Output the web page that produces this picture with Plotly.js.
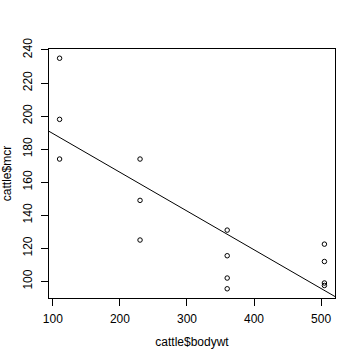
<!DOCTYPE html>
<html>
<head>
<meta charset="utf-8">
<script src="https://cdn.plot.ly/plotly-3.0.1.min.js"></script>
<style>html,body{margin:0;padding:0;background:#fff;}#plot{width:360px;height:360px;}</style>
</head>
<body>
<div id="plot"></div>
<script>
const bodywt = [110, 110, 110, 230, 230, 230, 360, 360, 360, 360, 505, 505, 505, 505];
const mcr = [235, 198, 174, 174, 149, 125, 131, 115.5, 102, 95.5, 122.5, 112, 99, 97.5];
const xTicks = [100, 200, 300, 400, 500];
const yTicks = [100, 120, 140, 160, 180, 200, 220, 240];
const xLabel = "cattle$bodywt";
const yLabel = "cattle$mcr";

// least-squares fit (abline(lm(mcr ~ bodywt)))
const n = bodywt.length;
const mx = bodywt.reduce((a, b) => a + b, 0) / n;
const my = mcr.reduce((a, b) => a + b, 0) / n;
let sxy = 0, sxx = 0;
for (let i = 0; i < n; i++) { sxy += (bodywt[i] - mx) * (mcr[i] - my); sxx += (bodywt[i] - mx) ** 2; }
const slope = sxy / sxx;
const intercept = my - slope * mx;

function rRange(v) {
  const lo = Math.min(...v), hi = Math.max(...v), p = 0.04 * (hi - lo);
  return [lo - p, hi + p];
}
const xr = rRange(bodywt), yr = rRange(mcr);

const font = {family: "Liberation Sans, Arial, sans-serif", size: 12, color: "#000"};

const traces = [
  {x: bodywt, y: mcr, type: "scatter", mode: "markers",
   marker: {symbol: "circle-open", size: 4.5, color: "#000", line: {width: 1, color: "#000"}},
   cliponaxis: true, hoverinfo: "none"},
  {x: xr, y: xr.map(v => intercept + slope * v), type: "scatter", mode: "lines",
   line: {color: "#000", width: 1}, hoverinfo: "none"}
];

const axisBase = {showgrid: false, zeroline: false, showline: true, mirror: true,
  linecolor: "#000", linewidth: 1, ticks: "outside", ticklen: 7, tickwidth: 1,
  tickcolor: "#000", tickfont: font, tickmode: "array"};

const layout = {
  width: 360, height: 360, showlegend: false,
  paper_bgcolor: "#fff", plot_bgcolor: "#fff", font: font,
  margin: {l: 49, r: 25, t: 49, b: 62, pad: 0},
  xaxis: Object.assign({}, axisBase, {range: xr, tickvals: xTicks, ticktext: xTicks.map(String),
    title: {text: xLabel, font: font, standoff: 12}, automargin: false, ticklabelstandoff: 3}),
  yaxis: Object.assign({}, axisBase, {range: yr, tickvals: yTicks, ticktext: yTicks.map(String),
    tickangle: -90, title: {text: yLabel, font: font, standoff: 14}, automargin: false, ticklabelstandoff: 4})
};

Plotly.newPlot("plot", traces, layout, {staticPlot: true, displayModeBar: false});
</script>
</body>
</html>
